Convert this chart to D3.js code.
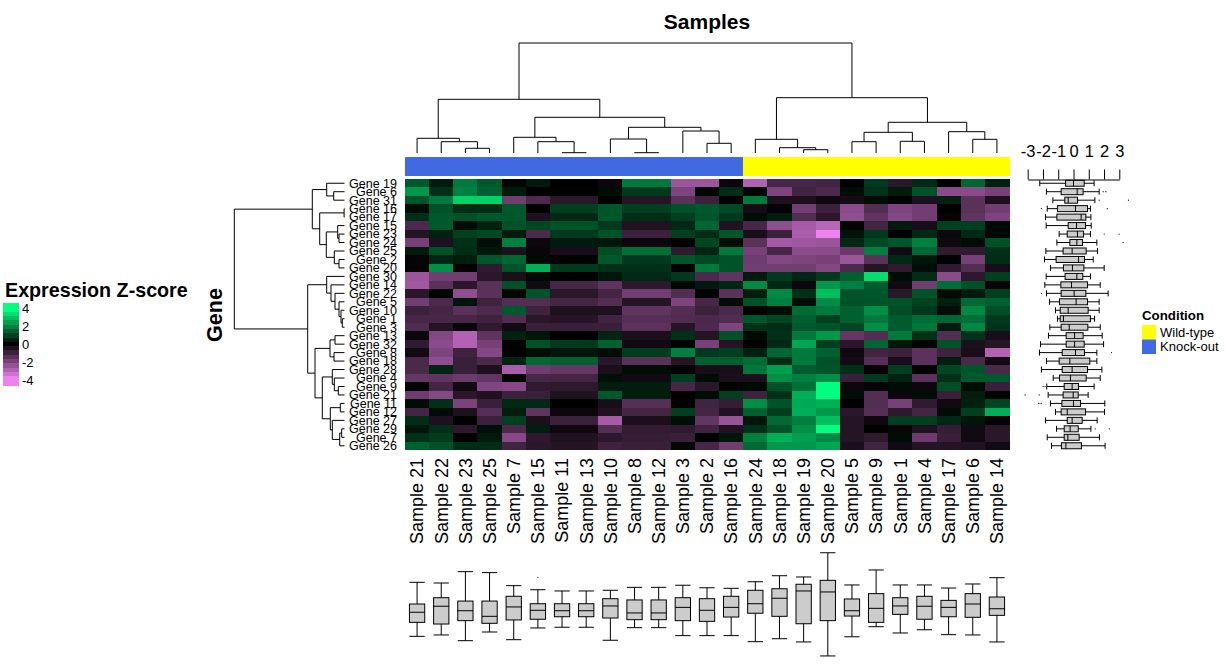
<!DOCTYPE html>
<html>
<head>
<meta charset="utf-8">
<script src="https://cdn.jsdelivr.net/npm/d3@7/dist/d3.min.js"></script>
<style>
  body { margin: 0; background: #fff; }
  text { font-family: "Liberation Sans", Arial, sans-serif; fill: #000; }
</style>
</head>
<body>
<svg id="chart" width="1225" height="665"></svg>
<script>
const samples = ['Sample 21', 'Sample 22', 'Sample 23', 'Sample 25', 'Sample 7', 'Sample 15', 'Sample 11', 'Sample 13', 'Sample 10', 'Sample 8', 'Sample 12', 'Sample 3', 'Sample 2', 'Sample 16', 'Sample 24', 'Sample 18', 'Sample 19', 'Sample 20', 'Sample 5', 'Sample 9', 'Sample 1', 'Sample 4', 'Sample 17', 'Sample 6', 'Sample 14'];
const genes = ['Gene 19', 'Gene 6', 'Gene 31', 'Gene 16', 'Gene 17', 'Gene 15', 'Gene 23', 'Gene 24', 'Gene 25', 'Gene 2', 'Gene 20', 'Gene 30', 'Gene 14', 'Gene 22', 'Gene 5', 'Gene 10', 'Gene 1', 'Gene 3', 'Gene 13', 'Gene 32', 'Gene 8', 'Gene 18', 'Gene 28', 'Gene 4', 'Gene 9', 'Gene 21', 'Gene 11', 'Gene 12', 'Gene 27', 'Gene 29', 'Gene 7', 'Gene 26'];
const knockOutCount = 14;

// one row per gene, same order as samples
const zScores = [
  [1.4, 0.4, 1.9, 1.4, 0.1, 0.4, 0, 0, -0.2, 1.9, 1.9, -2.6, -2.6, -0.2, -3.0, -1.2, -1.2, -1.1, 0, 0.9, -0.7, 0.65, 0, 1.6, 0.5],
  [2.4, 0.75, 2.0, 1.5, 0.4, 0, 0.05, 0.05, 0.2, 0.9, 0.9, -2.1, 0.1, 0.7, 0.1, -2.1, -1.1, -1.3, 0.2, 0.8, 0.4, 1.25, -2.3, -2.3, -2.0],
  [1.35, 1.9, 3.3, 3.3, -1.9, -1.3, -0.7, -0.7, 0, -0.6, -0.6, -1.5, -1.0, 0, 1.9, -0.5, -0.5, -0.25, -0.35, 0.2, 0.05, -0.5, 0.5, -1.5, -0.5],
  [0.2, 1.25, 0.7, 0.7, 1.4, 0, 1.0, 1.0, 1.35, 1.0, 1.0, 1.25, 1.4, 1.15, -0.35, -0.1, -1.9, -1.0, -2.3, -1.4, -2.1, -1.9, 0, -1.5, -1.9],
  [0.75, 1.4, 1.25, 1.4, 1.4, -0.5, 0.65, 0.65, 1.35, 0.7, 0.7, 1.0, 1.35, 0.9, 0.2, 0.45, -1.4, -0.7, -2.4, -1.6, -2.2, -1.9, -0.1, -1.6, -2.1],
  [-1.3, 1.4, 0.2, 0.5, 1.3, 1.1, 1.25, 1.25, 0.9, -0.55, -0.55, 0.65, 1.6, -0.55, -1.2, -2.4, -2.8, -3.1, 0.05, -1.1, 0.4, -0.4, 1.0, 1.0, 0.15],
  [-0.6, 0.5, 1.0, 1.15, 0.4, -1.3, 0.9, 0.9, 1.25, -1.0, -1.0, 1.0, 0.7, 1.35, -0.4, -1.0, -2.85, -4.0, 0.3, 0.9, 0, 0.65, -0.2, 0.65, 0.1],
  [-2.0, -0.5, 0.75, 0.2, 2.0, -0.2, 0.4, 0.4, 0.35, -0.2, -0.2, 0, 1.1, 0.2, -1.5, -2.75, -2.65, -2.6, 0.65, 1.15, 1.35, 2.0, -0.25, 0.2, 1.25],
  [0.4, 1.25, 0.7, 0.35, -0.5, -0.15, -0.4, -0.4, 1.2, 1.75, 1.75, -0.8, 0.6, 1.9, -2.0, -1.2, -2.35, -2.35, -1.75, 2.0, -0.3, 1.6, -0.8, -0.8, 0.75],
  [-0.1, 0.6, 0.45, 1.35, 1.6, 0.15, 0.05, 0.05, 1.4, 0.9, 0.9, 1.35, 1.15, 1.3, -1.85, -2.2, -2.1, -2.0, -2.6, -1.5, 0.65, 0.35, 0, -2.0, 0.7],
  [-0.1, 2.25, -0.05, -0.8, 1.3, 2.75, 0.9, 0.9, 0.75, 0.75, 0.75, 0.05, 1.9, 1.3, -1.9, -1.9, -1.9, -2.2, -1.3, -0.6, -0.8, 0.2, -0.8, -1.4, -0.4],
  [-2.6, -1.9, -1.9, -0.7, -0.45, 0.15, 0, 0, 0.35, 0.65, 0.65, 0.9, -1.3, -1.6, 0.4, 0.9, 0.6, 0.9, 1.5, 3.5, 0.2, 0.7, -2.3, -0.75, 1.0],
  [-2.7, -1.5, -0.7, -1.5, 1.25, -0.3, -1.2, -1.2, -1.6, -0.75, -0.75, 0.15, 0.4, 0.6, 2.15, 0.6, -0.2, 2.4, 2.0, 1.45, -0.3, -1.9, 1.7, 1.25, -0.15],
  [-0.7, 0.05, -2.4, -1.5, 0.1, 1.3, -0.7, -0.7, -1.15, -1.9, -1.9, -1.4, 0.05, -1.5, 0.45, 2.15, 0.75, 3.0, 1.3, 1.35, -0.7, 1.3, 0.2, 0.4, 1.0],
  [-1.9, -1.3, 0.35, -1.05, -1.4, -1.4, -1.15, -1.15, -1.4, -0.6, -0.6, -2.1, -1.2, 0.2, 1.25, 2.0, 0.2, 2.2, 1.25, 1.3, 1.3, 1.05, 0.45, 1.65, 1.5],
  [-1.0, -1.15, -1.5, -1.3, 1.4, -1.05, -0.5, -0.5, -0.5, -1.6, -1.6, -1.4, -1.0, -1.25, 0.05, 0.2, 1.7, 1.9, 1.5, 2.25, 1.2, 0.85, 0.2, 2.15, 1.2],
  [-1.2, -1.2, -1.2, -1.05, -1.35, -0.7, -0.65, -0.65, -1.1, -1.45, -1.45, -1.35, -1.25, -1.35, 1.35, 1.1, 1.5, 1.0, 1.5, 1.9, 1.45, 1.7, 1.6, 1.75, 0.9],
  [-1.35, -0.6, -0.15, -0.8, -0.3, -0.95, -0.95, -0.95, -0.95, -1.55, -1.55, -0.65, -1.3, -2.1, 0.75, 0.7, 1.4, 1.3, 1.1, 2.25, 1.45, 1.85, 0.4, 2.15, 0.8],
  [-0.2, -2.2, -3.0, -1.6, 0.5, 0.35, 0, 0, 0.6, -0.45, -0.45, 0.75, -0.6, 1.3, 0.15, 0.75, 1.9, 2.4, -1.7, -1.4, 1.9, 0.75, -1.4, 0.8, -0.4],
  [-0.8, -2.3, -3.0, -2.0, 0, 1.25, 0.9, 0.9, 1.5, -0.3, -0.3, 0.05, -2.0, -0.6, 0, 0.65, 2.6, 1.0, -0.7, 1.6, 0.35, 0.05, 1.3, -0.45, -0.65],
  [-0.3, -2.1, -1.05, -2.2, 0, 0.2, 0.35, 0.35, 0.2, 0.95, 0.95, 2.0, 0.9, 1.0, 0.5, 1.6, 1.9, 1.5, -0.25, -1.1, -1.0, -1.55, -1.05, -0.4, -3.0],
  [-1.25, -2.4, -0.95, -1.25, 0.6, 1.65, 1.5, 1.5, -0.7, -1.5, -1.5, -0.6, 1.5, 1.5, 1.7, 0.7, 1.9, 1.25, -0.35, -1.45, -0.4, -1.55, 0.45, -1.25, -0.3],
  [-1.25, 0.6, -0.95, -0.5, -2.85, -1.85, -1.7, -1.7, -0.45, 0.2, 0.2, -0.1, -0.4, -0.4, 1.85, 2.5, 1.45, 1.3, 0.75, -0.1, 1.0, -0.05, 1.1, 1.35, -1.25],
  [-1.7, -1.6, -1.8, -1.65, -0.05, -1.2, -1.15, -1.15, 0.25, -0.3, -0.3, 1.0, 0.2, -0.45, -0.45, 2.25, 2.0, 2.25, -0.95, 0.9, 0.5, -1.55, 0.75, 1.4, 1.4],
  [0.05, -1.15, -0.3, -2.15, -2.25, -0.8, -0.75, -0.75, 0.45, 0.45, 0.45, -1.2, -0.7, 0.05, 0.15, 1.3, 1.75, 4.0, -0.2, -0.1, 0.2, -0.2, 1.2, 0.2, -0.95],
  [-1.85, -2.25, -0.7, -0.55, -1.0, -0.95, -0.55, -0.55, 1.4, 0.45, 0.45, 0, 0.2, 1.0, -1.05, 0.75, 2.75, 4.0, 0.2, -1.4, -0.2, 0.2, -0.95, 0.45, 0],
  [0.2, 0.75, -2.05, -0.95, 0.65, 0.65, 0, 0, -0.4, -1.45, -1.45, 0, -1.1, -0.9, 2.25, 1.3, 2.65, 2.75, 0, -1.4, -2.0, -0.8, -0.3, 0.5, 1.1],
  [-1.15, 0.2, -0.5, -1.45, 0.45, -1.6, -0.2, -0.2, -0.55, -1.15, -1.15, 1.0, -1.15, -0.55, 1.5, 0.95, 2.75, 2.4, -0.7, -1.45, -0.75, -1.15, 0.2, 1.0, 2.75],
  [0.7, -0.5, 0, -1.0, 1.0, -0.45, -1.0, -1.0, -2.8, -0.45, -0.45, 0.25, -1.65, -2.55, 0.35, 1.65, 2.0, 3.0, -0.6, -0.25, 1.0, 1.0, 0.65, 0.35, -0.1],
  [0.35, 0.75, -0.75, 0.25, -1.25, 0.45, -0.25, -0.25, -1.4, -0.85, -0.85, -0.8, -1.1, -0.55, 0.75, 1.3, 2.25, 4.0, -0.6, 0, -0.15, -0.5, -0.9, -0.3, -0.7],
  [0.75, 0.95, 0, 0.4, -2.25, -0.75, -0.55, -0.55, -0.75, -0.9, -0.9, -0.95, 0, 0.35, 2.0, 2.75, 2.5, 2.15, -0.6, -0.8, 0.2, -1.85, -0.95, -0.3, -0.7],
  [1.5, 1.25, 0.7, 0.7, -1.1, -0.7, -0.6, -0.6, -1.05, -0.95, -0.95, 0.15, -1.2, -1.9, 1.65, 2.4, 2.4, 2.6, -0.45, -1.1, -0.3, -0.6, -0.6, -0.55, -0.3],
];

// dendrograms: [height, left, right], leaves are names
const sampleTree = [110,
  [53.7,
    [14.7, 'Sample 21', [11.3, 'Sample 22', [4.7, 'Sample 23', 'Sample 25']]],
    [35.7,
      [15.7, 'Sample 7', [11.3, 'Sample 15', [0.3, 'Sample 11', 'Sample 13']]],
      [25.7,
        [14, 'Sample 10', [0.3, 'Sample 8', 'Sample 12']],
        [22, 'Sample 3', [9.7, 'Sample 2', 'Sample 16']]]]],
  [55.3,
    [13.7, 'Sample 24', [5.3, 'Sample 18', [3.3, 'Sample 19', 'Sample 20']]],
    [30.7,
      [20.7, [11.3, 'Sample 5', 'Sample 9'], [11.7, 'Sample 1', 'Sample 4']],
      [21.3, 'Sample 17', [13.7, 'Sample 6', 'Sample 14']]]]];

const geneTree = [110.2,
  [32.2,
    [17.8, 'Gene 19', [10.8, 'Gene 6', 'Gene 31']],
    [24.8,
      [0.4, 'Gene 16', 'Gene 17'],
      [18.2,
        [6.8, 'Gene 15', [5.5, 'Gene 23', 'Gene 24']],
        [10.2, 'Gene 25', [5.5, 'Gene 2', 'Gene 20']]]]],
  [36.8,
    [17.8, 'Gene 30', [13.5, 'Gene 14', [9.5, 'Gene 22', [5.5, 'Gene 5', [3.5, 'Gene 10', [2.2, 'Gene 1', 'Gene 3']]]]]],
    [29.5,
      [14.5, [9.5, 'Gene 13', 'Gene 32'], [10.5, 'Gene 8', 'Gene 18']],
      [22.2,
        [12.2, 'Gene 28', [10.2, 'Gene 4', [6.2, 'Gene 9', 'Gene 21']]],
        [14.2,
          [4.2, 'Gene 11', 'Gene 12'],
          [12.2, 'Gene 27', [4.8, [2.8, 'Gene 29', 'Gene 7'], 'Gene 26']]]]]]];

// boxplots: [lower whisker, q1, median, q3, upper whisker]
const sampleBoxes = [
  [-2.31, -1.31, -0.59, 0, 1.55], [-2.21, -1.43, -0.16, 0.45, 1.5], [-2.62, -1.19, -0.48, 0.21, 2.31], [-2.0, -1.38, -0.88, 0.21, 2.24], [-2.55, -1.14, -0.21, 0.55, 1.31],
  [-1.71, -1.09, -0.45, 0.02, 1.02], [-1.66, -0.91, -0.48, 0.02, 0.93], [-1.66, -0.91, -0.48, 0.02, 0.93], [-2.59, -1.0, -0.14, 0.38, 0.98], [-1.69, -1.12, -0.64, 0.29, 1.19],
  [-1.69, -1.12, -0.64, 0.29, 1.19], [-2.26, -1.19, -0.24, 0.45, 1.34], [-2.26, -1.24, -0.45, 0.38, 1.16], [-2.26, -0.93, -0.24, 0.55, 1.12], [-2.69, -0.66, 0.02, 0.98, 1.59],
  [-2.48, -0.88, 0.41, 1.09, 2.02], [-2.71, -1.41, 0.93, 1.41, 1.93], [-3.71, -1.19, 0.86, 1.69, 3.66], [-2.34, -0.86, -0.48, 0.36, 1.36], [-1.62, -1.31, -0.31, 0.74, 2.43],
  [-2.07, -0.74, -0.14, 0.45, 1.36], [-1.84, -1.09, -0.16, 0.55, 1.36], [-2.19, -0.91, -0.24, 0.26, 1.14], [-2.21, -0.95, 0, 0.74, 1.43], [-2.71, -0.81, -0.34, 0.5, 1.88],
];
const sampleOutliers = [['Sample 15', 1.91]];

const geneBoxes = [
  [-2.21, -0.52, 0, 0.7, 1.35], [-1.77, -0.81, 0.24, 0.63, 1.68], [-1.35, -0.57, -0.35, 0.26, 1.4], [-1.72, -1.05, 0.13, 0.92, 1.11],
  [-1.83, -1.09, 0.5, 0.81, 1.14], [-1.79, -0.35, 0.2, 0.79, 1.16], [-0.94, -0.41, 0.26, 0.66, 1.11], [-1.09, -0.24, 0.22, 0.59, 1.53],
  [-1.81, -0.68, -0.09, 0.83, 1.57], [-1.9, -1.14, 0.33, 0.72, 1.29], [-1.51, -0.66, -0.07, 0.68, 2.01], [-1.79, -0.55, 0.22, 0.61, 1.11],
  [-1.88, -0.83, -0.13, 0.92, 1.75], [-1.77, -0.81, 0.04, 0.81, 2.27], [-1.57, -0.92, 0.17, 0.92, 1.68], [-1.18, -0.87, -0.35, 0.96, 1.68],
  [-1.05, -0.87, -0.66, 1.11, 1.38], [-1.55, -0.81, -0.28, 0.94, 1.75], [-1.64, -0.48, 0.07, 0.63, 1.88], [-2.16, -0.48, 0.07, 0.7, 1.97],
  [-2.23, -0.74, 0.13, 0.72, 1.53], [-1.77, -0.94, -0.24, 1.07, 1.53], [-2.1, -0.74, -0.09, 0.92, 1.86], [-1.33, -0.92, -0.2, 0.83, 1.75],
  [-1.75, -0.61, -0.09, 0.33, 1.35], [-1.66, -0.68, -0.02, 0.31, 0.96], [-1.51, -0.76, 0, 0.46, 2.05], [-1.18, -0.81, -0.41, 0.79, 2.03],
  [-1.83, -0.41, -0.09, 0.57, 1.55], [-1.11, -0.61, -0.22, 0.31, 1.14], [-1.72, -0.61, -0.37, 0.37, 1.7], [-1.44, -0.79, -0.5, 0.52, 2.07],
];
const geneOutliers = [
  ['Gene 6', 1.94], ['Gene 6', 2.12], ['Gene 31', 1.68], ['Gene 31', 3.6], ['Gene 16', -2.1], ['Gene 16', 2.21],
  ['Gene 23', 2.01], ['Gene 23', 2.99], ['Gene 24', 3.25], ['Gene 22', -2.1], ['Gene 8', 2.49],
  ['Gene 9', -1.99], ['Gene 9', -1.86], ['Gene 21', -3.17], ['Gene 21', -2.25],
  ['Gene 11', -2.27], ['Gene 11', -2.12], ['Gene 29', 1.42], ['Gene 29', 2.34],
];

const zTicks = [4, 2, 0, -2, -4];
const legendLevels = [4.5, 4, 3.5, 3, 2.5, 2, 1.5, 1, 0.5, 0, -0.5, -1, -1.5, -2, -2.5, -3, -3.5, -4, -4.5];
const boxTicks = [-3, -2, -1, 0, 1, 2, 3];
const conditions = [{ name: 'Wild-type', color: 'yellow' }, { name: 'Knock-out', color: 'royalblue' }];

const HEATMAP = { left: 405, right: 1009, top: 179, bottom: 450 };
const svg = d3.select('#chart');

const xScale = d3.scaleBand().domain(samples).range([HEATMAP.left, HEATMAP.right]);
const yScale = d3.scaleBand().domain(genes).range([HEATMAP.top, HEATMAP.bottom]);
const colorScale = d3.scaleLinear().domain([-4, 0, 4]).range(['violet', 'black', 'springgreen']).clamp(true);
const xCenter = (d) => xScale(d) + xScale.bandwidth() / 2;
const yCenter = (d) => yScale(d) + yScale.bandwidth() / 2;

// heatmap
svg
  .append('g')
  .attr('shape-rendering', 'crispEdges')
  .selectAll('g')
  .data(zScores)
  .enter()
  .append('g')
  .each(function (row, i) {
    d3.select(this)
      .selectAll('rect')
      .data(row)
      .enter()
      .append('rect')
      .attr('x', (d, j) => xScale(samples[j]))
      .attr('y', yScale(genes[i]))
      .attr('width', xScale.bandwidth() + 0.5)
      .attr('height', yScale.bandwidth() + (i === genes.length - 1 ? 0 : 0.5))
      .attr('fill', (d) => colorScale(d));
  });

// condition bar above the heatmap
svg
  .append('g')
  .attr('shape-rendering', 'crispEdges')
  .selectAll('rect')
  .data(samples)
  .enter()
  .append('rect')
  .attr('x', (d) => xScale(d))
  .attr('y', 157)
  .attr('width', xScale.bandwidth() + 0.5)
  .attr('height', 19)
  .attr('fill', (d, i) => (i < knockOutCount ? 'royalblue' : 'yellow'));

// dendrograms, parent sits half way between its two children
const layoutTree = (tree, leafPos) => {
  const root = d3.hierarchy(tree, (d) => (Array.isArray(d) ? d.slice(1) : null));
  root.eachAfter((n) => {
    n.pos = n.children ? d3.mean(n.children, (c) => c.pos) : leafPos(n.data);
    n.h = n.children ? n.data[0] : 0;
  });
  return root;
};

const sampleDepth = d3.scaleLinear().domain([0, 110]).range([153, 43]);
const geneDepth = d3.scaleLinear().domain([0, 110.2]).range([344.5, 234.3]);

const sampleRoot = layoutTree(sampleTree, xCenter);
svg
  .append('g')
  .selectAll('path')
  .data(sampleRoot.descendants().filter((n) => n.children))
  .enter()
  .append('path')
  .attr('fill', 'none')
  .attr('stroke', '#000')
  .attr('d', (n) => {
    const [a, b] = n.children;
    return `M${a.pos},${sampleDepth(a.h)}V${sampleDepth(n.h)}H${b.pos}V${sampleDepth(b.h)}`;
  });

const geneRoot = layoutTree(geneTree, yCenter);
svg
  .append('g')
  .selectAll('path')
  .data(geneRoot.descendants().filter((n) => n.children))
  .enter()
  .append('path')
  .attr('fill', 'none')
  .attr('stroke', '#000')
  .attr('d', (n) => {
    const [a, b] = n.children;
    return `M${geneDepth(a.h)},${a.pos}H${geneDepth(n.h)}V${b.pos}H${geneDepth(b.h)}`;
  });

// gene and sample names
svg
  .append('g')
  .selectAll('text')
  .data(genes)
  .enter()
  .append('text')
  .attr('x', 397)
  .attr('y', yCenter)
  .attr('dy', '0.35em')
  .attr('text-anchor', 'end')
  .attr('font-size', 12.5)
  .text((d) => d);

svg
  .append('g')
  .selectAll('text')
  .data(samples)
  .enter()
  .append('text')
  .attr('transform', (d) => `translate(${xCenter(d)},458) rotate(-90)`)
  .attr('dy', '0.35em')
  .attr('text-anchor', 'end')
  .attr('font-size', 18)
  .text((d) => d);

svg.append('text').attr('x', 707).attr('y', 29).attr('text-anchor', 'middle').attr('font-size', 21).attr('font-weight', 'bold').text('Samples');
svg.append('text').attr('transform', 'translate(222,315) rotate(-90)').attr('text-anchor', 'middle').attr('font-size', 21.5).attr('font-weight', 'bold').text('Gene');

// boxplots under the heatmap
const sampleValue = d3.scaleLinear().domain([-4, 4]).range([660, 548]);
const boxWidth = 15.3;
const sampleBox = svg.append('g').selectAll('g').data(sampleBoxes).enter().append('g').attr('transform', (d, i) => `translate(${xCenter(samples[i])},0)`);
sampleBox.append('line').attr('y1', (d) => sampleValue(d[0])).attr('y2', (d) => sampleValue(d[4])).attr('stroke', '#000');
[0, 4].forEach((k) => {
  sampleBox.append('line').attr('x1', -boxWidth / 2).attr('x2', boxWidth / 2).attr('y1', (d) => sampleValue(d[k])).attr('y2', (d) => sampleValue(d[k])).attr('stroke', '#000');
});
sampleBox.append('rect').attr('x', -boxWidth / 2).attr('width', boxWidth).attr('y', (d) => sampleValue(d[3])).attr('height', (d) => sampleValue(d[1]) - sampleValue(d[3])).attr('fill', '#ccc').attr('stroke', '#000');
sampleBox.append('line').attr('x1', -boxWidth / 2).attr('x2', boxWidth / 2).attr('y1', (d) => sampleValue(d[2])).attr('y2', (d) => sampleValue(d[2])).attr('stroke', '#000');
svg.append('g').selectAll('circle').data(sampleOutliers).enter().append('circle').attr('cx', (d) => xCenter(d[0])).attr('cy', (d) => sampleValue(d[1])).attr('r', 0.6).attr('fill', '#000');

// boxplots right of the heatmap, with their axis
const geneValue = d3.scaleLinear().domain([-3, 3]).range([1027.7, 1119.3]);
const geneBoxHeight = 6;
const geneBox = svg.append('g').selectAll('g').data(geneBoxes).enter().append('g').attr('transform', (d, i) => `translate(0,${yCenter(genes[i])})`);
geneBox.append('line').attr('x1', (d) => geneValue(d[0])).attr('x2', (d) => geneValue(d[4])).attr('stroke', '#000');
[0, 4].forEach((k) => {
  geneBox.append('line').attr('x1', (d) => geneValue(d[k])).attr('x2', (d) => geneValue(d[k])).attr('y1', -geneBoxHeight / 2).attr('y2', geneBoxHeight / 2).attr('stroke', '#000');
});
geneBox.append('rect').attr('x', (d) => geneValue(d[1])).attr('width', (d) => geneValue(d[3]) - geneValue(d[1])).attr('y', -geneBoxHeight / 2).attr('height', geneBoxHeight).attr('fill', '#ccc').attr('stroke', '#000');
geneBox.append('line').attr('x1', (d) => geneValue(d[2])).attr('x2', (d) => geneValue(d[2])).attr('y1', -geneBoxHeight / 2).attr('y2', geneBoxHeight / 2).attr('stroke', '#000');
svg.append('g').selectAll('circle').data(geneOutliers).enter().append('circle').attr('cx', (d) => geneValue(d[1])).attr('cy', (d) => yCenter(d[0])).attr('r', 0.6).attr('fill', '#000');

const boxAxis = svg
  .append('g')
  .attr('transform', 'translate(0,179.5)')
  .call(d3.axisTop(geneValue).tickValues(boxTicks).tickFormat((d) => String(d)).tickSize(10).tickPadding(13).tickSizeOuter(0));
boxAxis.selectAll('text').attr('font-size', 16.5).attr('font-family', '"Liberation Sans", Arial, sans-serif');

// z-score legend
svg.append('text').attr('x', 5).attr('y', 296.5).attr('font-size', 19.7).attr('font-weight', 'bold').text('Expression Z-score');
const legendBand = d3.scaleBand().domain(legendLevels).range([303, 385]);
svg
  .append('g')
  .attr('shape-rendering', 'crispEdges')
  .selectAll('rect')
  .data(legendLevels)
  .enter()
  .append('rect')
  .attr('x', 3)
  .attr('y', (d) => legendBand(d))
  .attr('width', 16)
  .attr('height', legendBand.bandwidth() + 0.5)
  .attr('fill', (d) => colorScale(d));
const legendValue = d3.scaleLinear().domain([-4, 4]).range([380.3, 308]);
svg
  .append('g')
  .selectAll('text')
  .data(zTicks)
  .enter()
  .append('text')
  .attr('x', 22)
  .attr('y', (d) => legendValue(d))
  .attr('dy', '0.35em')
  .attr('font-size', 13)
  .text((d) => d);

// condition legend
const condBand = d3.scaleBand().domain(conditions.map((d) => d.name)).range([325, 354]);
svg.append('text').attr('x', 1142).attr('y', 320).attr('font-size', 13.3).attr('font-weight', 'bold').text('Condition');
const condRow = svg.append('g').selectAll('g').data(conditions).enter().append('g');
condRow.append('rect').attr('x', 1142).attr('y', (d) => condBand(d.name)).attr('width', 14).attr('height', condBand.bandwidth()).attr('fill', (d) => d.color);
condRow.append('text').attr('x', 1160).attr('y', (d) => condBand(d.name) + condBand.bandwidth() / 2).attr('dy', '0.35em').attr('font-size', 13).text((d) => d.name);
</script>
</body>
</html>
